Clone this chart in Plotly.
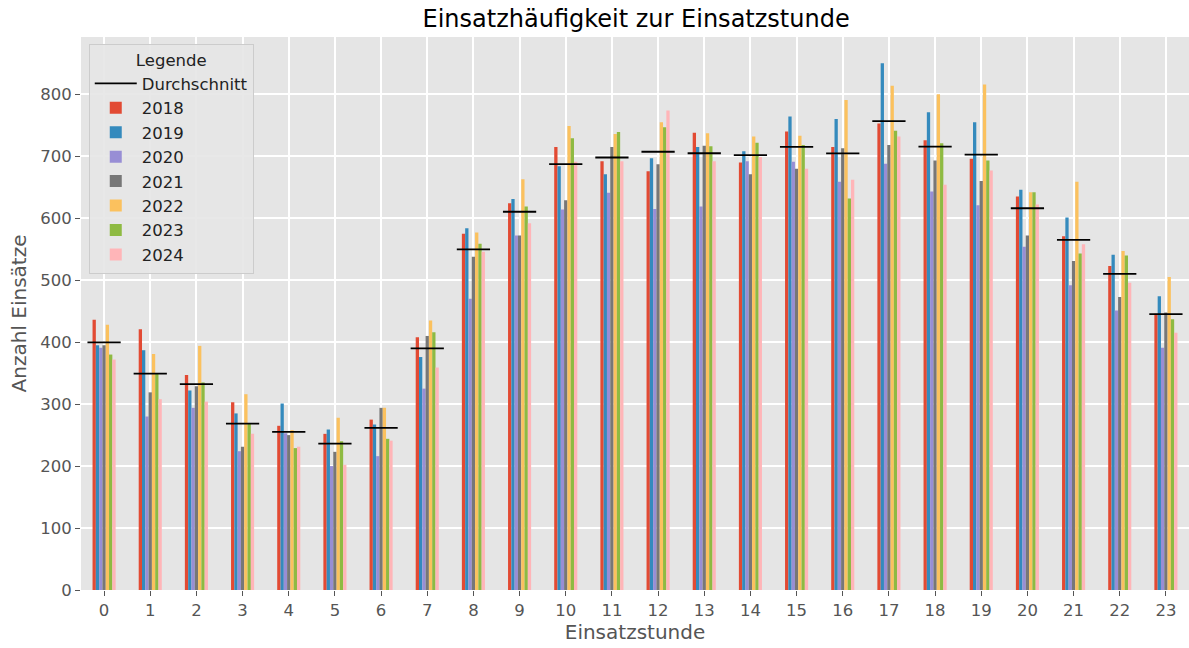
import plotly.graph_objects as go

hours = list(range(24))
years = ["2018", "2019", "2020", "2021", "2022", "2023", "2024"]

v2018 = [436, 421, 347, 303, 265, 252, 275, 408, 575, 624, 715, 692, 676, 738, 690, 740, 715, 753, 726, 696, 635, 571, 523, 446]
v2019 = [395, 387, 322, 285, 301, 259, 267, 376, 584, 631, 684, 671, 697, 715, 708, 764, 760, 850, 771, 755, 646, 601, 541, 474]
v2020 = [391, 280, 294, 224, 253, 200, 216, 325, 470, 572, 614, 641, 615, 619, 692, 691, 659, 688, 643, 621, 554, 492, 451, 391]
v2021 = [395, 319, 329, 231, 250, 223, 294, 410, 538, 572, 629, 715, 687, 717, 671, 680, 713, 718, 693, 660, 572, 531, 473, 448]
v2022 = [428, 381, 394, 316, 258, 278, 294, 435, 577, 663, 749, 736, 755, 737, 732, 733, 791, 814, 800, 816, 642, 659, 547, 505]
v2023 = [380, 349, 335, 268, 229, 240, 244, 416, 559, 619, 729, 739, 747, 716, 722, 718, 632, 741, 721, 693, 642, 543, 540, 437]
v2024 = [372, 308, 304, 252, 231, 202, 241, 359, 546, 592, 691, 692, 774, 692, 699, 680, 662, 732, 654, 677, 622, 558, 496, 415]

series = [v2018, v2019, v2020, v2021, v2022, v2023, v2024]
colors = ["#E24A33", "#348ABD", "#988ED5", "#777777", "#FBC15E", "#8EBA42", "#FFB5B8"]

averages = [sum(s[i] for s in series) / len(series) for i in hours]

fig = go.Figure()

for k, (name, vals) in enumerate(zip(years, series)):
    fig.add_trace(go.Bar(
        x=hours, y=vals, name=name, marker=dict(color=colors[k], line=dict(width=0)),
        legendrank=10 + k,
    ))

half = 0.36
ax, ay = [], []
for h, a in zip(hours, averages):
    ax += [h - half, h + half, None]
    ay += [a, a, None]
fig.add_trace(go.Scatter(
    x=ax, y=ay, mode="lines", name="Durchschnitt",
    line=dict(color="black", width=1.8), legendrank=1,
))

fig.update_layout(
    width=1189, height=648,
    margin=dict(l=81, r=0, t=37, b=58),
    paper_bgcolor="white", plot_bgcolor="#E5E5E5",
    font=dict(family="DejaVu Sans", color="#555555", size=14),
    barmode="group", bargap=0.5, bargroupgap=0,
    title=dict(text="Einsatzhäufigkeit zur Einsatzstunde", x=0.535, xanchor="center",
               y=0.972, yanchor="middle", font=dict(size=24, color="black")),
    showlegend=True,
    legend=dict(
        x=0.007, y=0.988, xanchor="left", yanchor="top",
        bgcolor="rgba(229,229,229,0.9)", bordercolor="#cccccc", borderwidth=1,
        font=dict(size=16.5, color="#222222"), itemwidth=42,
        title=dict(text="Legende", side="top center", font=dict(size=16.5, color="#222222")),
        traceorder="normal",
    ),
)

fig.update_xaxes(
    range=[-0.5, 23.5], tickmode="array", tickvals=hours, ticktext=[str(h) for h in hours],
    showgrid=True, gridcolor="white", gridwidth=1.5, zeroline=False,
    ticks="outside", ticklen=5, tickcolor="#555555", tickfont=dict(size=16.5, color="#555555"),
    title=dict(text="Einsatzstunde", font=dict(size=20, color="#555555"), standoff=4),
    showline=False,
)
fig.update_yaxes(
    range=[0, 892.5], tickmode="array", tickvals=list(range(0, 801, 100)),
    showgrid=True, gridcolor="white", gridwidth=1.5, zeroline=False,
    ticks="outside", ticklen=5, tickcolor="#555555", tickfont=dict(size=16.5, color="#555555"),
    title=dict(text="Anzahl Einsätze", font=dict(size=20, color="#555555"), standoff=8),
    showline=False,
)

fig.write_html("out.html", config={"displayModeBar": False},
               post_script="document.body.style.margin='0';")
